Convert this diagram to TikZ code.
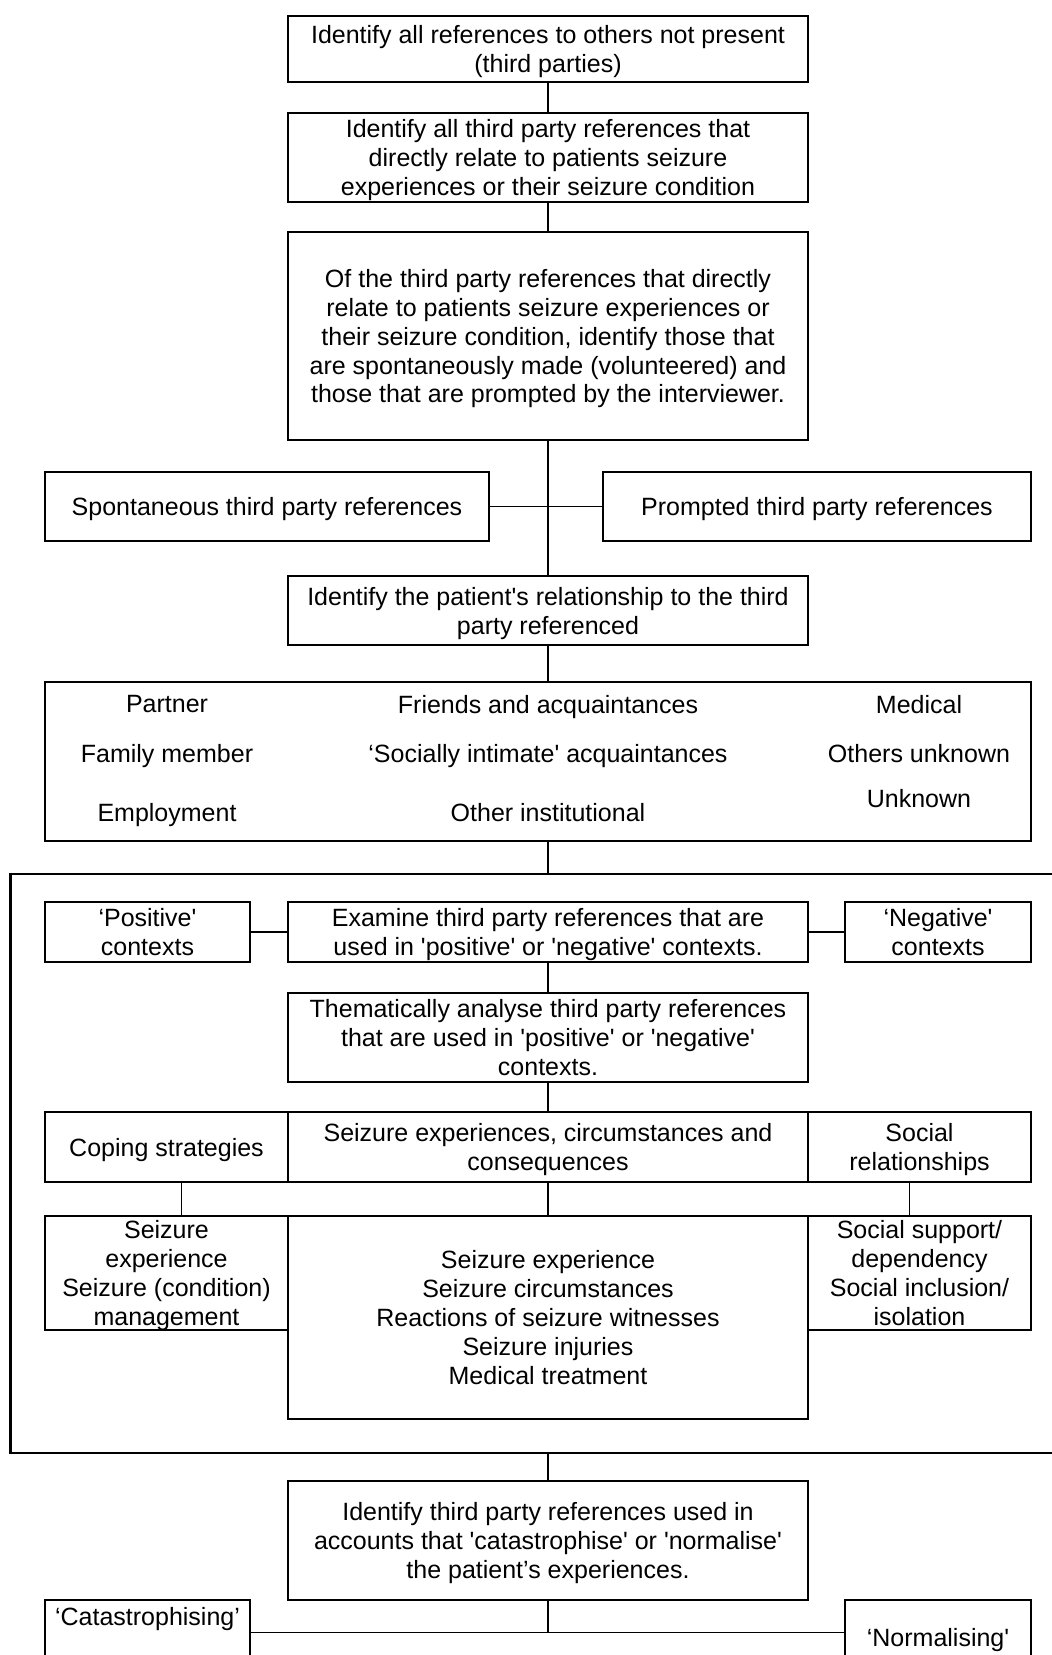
\documentclass[tikz,border=0pt]{standalone}
\usepackage{fontspec}
\setmainfont{Liberation Sans}[Ligatures=TeXOff]
\usepackage{tikz}
\usetikzlibrary{positioning}
\newcommand{\pxlen}{0.48pt}

\begin{document}
\begin{tikzpicture}[x=0.48pt, y=-0.48pt,
  every node/.style={font=\fontsize{12pt}{13.9pt}\selectfont, align=center, inner sep=0pt, text depth=0pt},
  box/.style={draw, line width=0.9pt},
  sz/.style 2 args={minimum width=#1*\pxlen, minimum height=#2*\pxlen},
  link/.style={line width=0.8pt}]
\useasboundingbox (0,0) rectangle (1052,1655);
\clip (0,0) rectangle (1052,1655);
% upper chain
\node[box, sz={520}{66}] (refall) at (548,49) {Identify all references to others not present\\(third parties)};
\node[box, sz={520}{89}] (direct) at (548,157.5) {Identify all third party references that\\directly relate to patients seizure\\experiences or their seizure condition};
\node[box, sz={520}{208}] (voluntary) at (548,336) {Of the third party references that directly\\relate to patients seizure experiences or\\their seizure condition, identify those that\\are spontaneously made (volunteered) and\\those that are prompted by the interviewer.};
\node[box, sz={444}{69}] (spont) at (267,506.5) {Spontaneous third party references};
\node[box, sz={428}{69}] (prompt) at (817,506.5) {Prompted third party references};
\node[box, sz={520}{69}] (ptrel) at (548,610.5) {Identify the patient's relationship to the third\\party referenced};
% relationship groups
\node[box, sz={986}{159}] (groups) at (538,761.5) {};
\node (partner) at (167,704) {Partner};
\node (friends) at (548,704) {Friends and acquaintances};
\node (medical) at (919,704) {Medical};
\node (family) at (167,753) {Family member};
\node (intimate) at (548,753) {‘Socially intimate' acquaintances};
\node (othersunk) at (919,753) {Others unknown};
\node (employ) at (167,812.5) {Employment};
\node (institut) at (548,812.5) {Other institutional};
\node (unknown) at (919,798) {Unknown};
% analysis frame
\node[draw, line width=1.3pt, sz={1090}{579}] (frame) at (555.5,1163.5) {};
\node[box, sz={205}{60}] (pos) at (147.5,932) {‘Positive'\\contexts};
\node[box, sz={520}{60}] (exam) at (548,932) {Examine third party references that are\\used in 'positive' or 'negative' contexts.};
\node[box, sz={186}{60}] (neg) at (938,932) {‘Negative'\\contexts};
\node[box, sz={520}{89}] (them) at (548,1037.5) {Thematically analyse third party references\\that are used in 'positive' or 'negative'\\contexts.};
\node[box, sz={243}{70}] (coping) at (166.5,1147) {Coping strategies};
\node[box, sz={520}{70}] (sezexp) at (548,1147) {Seizure experiences, circumstances and\\consequences};
\node[box, sz={223}{70}] (social) at (919.5,1147) {Social\\relationships};
\node[box, sz={243}{114}] (mgmt) at (166.5,1273) {Seizure\\experience\\Seizure (condition)\\management};
\node[box, sz={520}{203}] (sezlist) at (548,1317.5) {Seizure experience\\Seizure circumstances\\Reactions of seizure witnesses\\Seizure injuries\\Medical treatment};
\node[box, sz={223}{114}] (support) at (919.5,1273) {Social support/\\dependency\\Social inclusion/\\isolation};
% accounts
\node[box, sz={520}{119}] (accounts) at (548,1540.5) {Identify third party references used in\\accounts that 'catastrophise' or 'normalise'\\the patient’s experiences.};
\node[box, sz={205}{65}, label={[anchor=north, yshift=-4pt]north:‘Catastrophising’}] (cat) at (147.5,1632.5) {};
\node[box, sz={186}{74}] (norm) at (938,1637) {‘Normalising'};
% connectors
\draw[link] (refall) -- (direct);
\draw[link] (direct) -- (voluntary);
\draw[link] (voluntary) -- (ptrel);
\draw[link] (spont) -- (prompt);
\draw[link] (ptrel.south) -- (ptrel.south |- groups.north);
\draw[link] (exam.north |- groups.south) -- (exam.north |- frame.north);
\draw[link] (pos) -- (exam);
\draw[link] (exam) -- (neg);
\draw[link] (exam) -- (them);
\draw[link] (them) -- (sezexp);
\draw[link] ([xshift=15*\pxlen]coping.south) -- ([xshift=15*\pxlen]mgmt.north);
\draw[link] (sezexp) -- (sezlist);
\draw[link] ([xshift=-10*\pxlen]social.south) -- ([xshift=-10*\pxlen]support.north);
\draw[link] (accounts.north |- frame.south) -- (accounts.north);
\draw[link] (accounts.south) -- (accounts.south |- cat.east);
\draw[link] (cat.east) -- (cat.east -| norm.west);
\end{tikzpicture}
\end{document}
